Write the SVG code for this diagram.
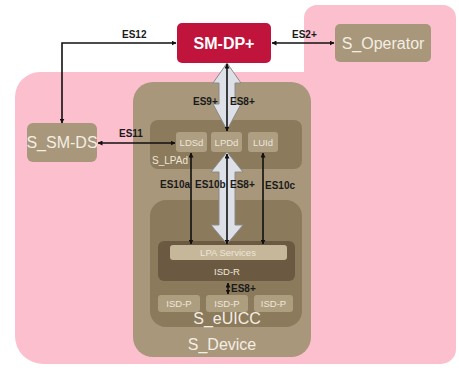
<svg xmlns="http://www.w3.org/2000/svg" width="459" height="368" viewBox="0 0 459 368">
<defs>
<style>
.lbl{font-family:"Liberation Sans",Arial,sans-serif;font-weight:bold;font-size:10px;fill:#1a1a1a}
.tan{fill:#A8977A}
.dark{fill:#8C7A5C}
.small{font-family:"Liberation Sans",Arial,sans-serif;font-size:9.5px;fill:#EDE6D8;text-anchor:middle}
.big{font-family:"Liberation Sans",Arial,sans-serif;font-size:16px;fill:#F3EEE4;text-anchor:middle}
.ln{stroke:#111;stroke-width:1.6;fill:none;marker-start:url(#a);marker-end:url(#a)}
.hollow{fill:#DDE1E7;stroke:#8A8A8A;stroke-width:1}
</style>
<marker id="a" viewBox="0 0 10 10" refX="9" refY="5" markerWidth="5" markerHeight="5" orient="auto-start-reverse" markerUnits="userSpaceOnUse">
<path d="M0,0 L10,5 L0,10 z" fill="#111"/>
</marker>
</defs>
<rect width="459" height="368" fill="#fff"/>
<path d="M15,97 A25,25 0 0 1 40,72 L304,72 L304,18 A13,13 0 0 1 317,5 L443,5 A13,13 0 0 1 456,18 L456,349 A15,15 0 0 1 441,364 L43,364 A28,28 0 0 1 15,336 Z" fill="#FBBFCE"/>
<g id="S_Device">
<rect x="133" y="82" width="178" height="275" rx="20" class="tan"/>
<text x="222" y="350" class="big" font-size="14">S_Device</text>
</g>
<g id="S_LPAd">
<rect x="150" y="120" width="152" height="49" rx="8" class="dark"/>
<text x="152" y="164" font-family="Liberation Sans, Arial, sans-serif" font-size="10" fill="#EDE6D8">S_LPAd</text>
</g>
<g id="LDSd"><rect x="176" y="132" width="31" height="20" rx="3" fill="#AE9E82"/><text x="191.5" y="146" class="small">LDSd</text></g>
<g id="LPDd"><rect x="211" y="132" width="31" height="20" rx="3" fill="#AE9E82"/><text x="226.5" y="146" class="small">LPDd</text></g>
<g id="LUId"><rect x="248" y="132" width="30" height="20" rx="3" fill="#AE9E82"/><text x="263" y="146" class="small">LUId</text></g>
<g id="S_eUICC">
<rect x="150" y="200" width="152" height="127" rx="16" class="dark"/>
<text x="227" y="324" class="big" font-size="14">S_eUICC</text>
</g>
<g id="ISD-R">
<rect x="158" y="241" width="137" height="40" rx="6" fill="#6B5A41"/>
<text x="227" y="275" class="small" font-size="10">ISD-R</text>
</g>
<g id="LPA_Services">
<rect x="170" y="245" width="117" height="15" rx="3" fill="#C6B79B"/>
<text x="228" y="256" class="small" font-size="9">LPA Services</text>
</g>
<g id="ISD-P1"><rect x="158" y="295" width="42" height="17" rx="3" fill="#AE9E80"/><text x="179" y="307" class="small" font-size="9">ISD-P</text></g>
<g id="ISD-P2"><rect x="206" y="295" width="42" height="17" rx="3" fill="#AE9E80"/><text x="227" y="307" class="small" font-size="9">ISD-P</text></g>
<g id="ISD-P3"><rect x="254" y="295" width="39" height="17" rx="3" fill="#AE9E80"/><text x="273.5" y="307" class="small" font-size="9">ISD-P</text></g>
<g id="SM-DP">
<rect x="177" y="23" width="94" height="40" rx="5" fill="#C0143C"/>
<text x="224" y="49" font-family="Liberation Sans, Arial, sans-serif" font-weight="bold" font-size="16" fill="#fff" text-anchor="middle">SM-DP+</text>
</g>
<g id="S_Operator">
<rect x="335" y="24" width="96" height="38" rx="5" class="tan"/>
<text x="383" y="49" class="big" font-size="15">S_Operator</text>
</g>
<g id="S_SM-DS">
<rect x="27" y="123" width="70" height="39" rx="6" class="tan"/>
<text x="62" y="148" class="big" font-size="15">S_SM-DS</text>
</g>
<g id="connectors">
<path class="hollow" d="M227,63 L241,83 L235,83 L235,104 L241,104 L227,130 L213,104 L219,104 L219,83 L213,83 Z"/>
<path class="hollow" d="M227,152 L243,172 L235,172 L235,225 L243,225 L227,244 L211,225 L219,225 L219,172 L211,172 Z"/>
<path class="ln" d="M227,64 L227,131"/>
<path class="ln" d="M227,154 L227,244"/>
<path d="M62,123 L62,43 L176,43" fill="none" stroke="#111" stroke-width="1.6" marker-start="url(#a)" marker-end="url(#a)"/>
<path class="ln" d="M272,43 L334,43"/>
<path class="ln" d="M98,143 L175,143"/>
<path class="ln" d="M191,153 L191,244"/>
<path class="ln" d="M263,153 L263,244"/>
<path class="ln" d="M228,283 L228,294" style="stroke-width:1.4"/>
<text x="122" y="38" class="lbl">ES12</text>
<text x="292" y="38" class="lbl">ES2+</text>
<text x="119" y="137" class="lbl">ES11</text>
<text x="193" y="105" class="lbl">ES9+</text>
<text x="230" y="105" class="lbl">ES8+</text>
<text x="160" y="188" class="lbl">ES10a</text>
<text x="195" y="188" class="lbl">ES10b</text>
<text x="230" y="188" class="lbl">ES8+</text>
<text x="265" y="189" class="lbl">ES10c</text>
<text x="231" y="292" class="lbl">ES8+</text>
</g>
</svg>
